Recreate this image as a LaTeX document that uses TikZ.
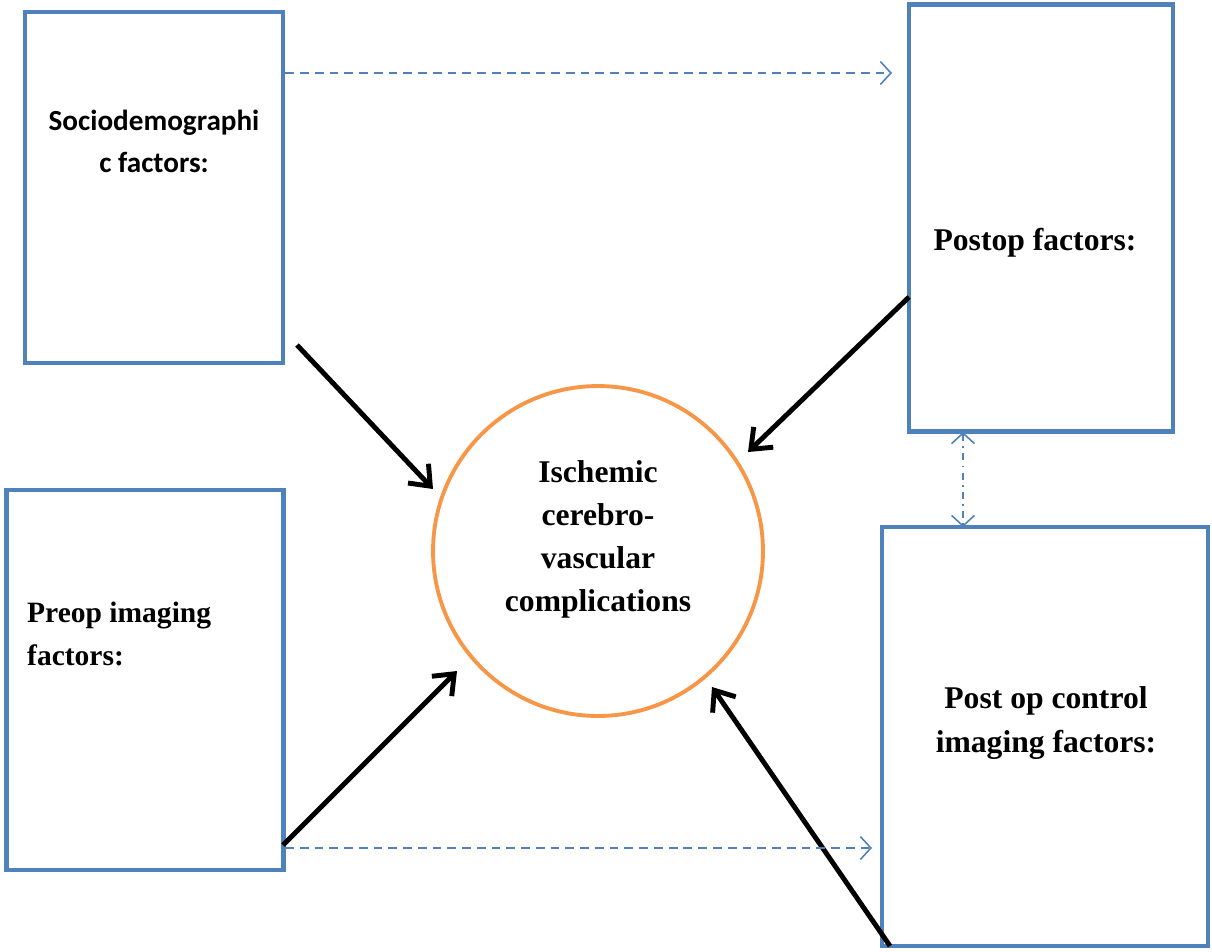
\documentclass[tikz,border=0pt]{standalone}
\usepackage{fontspec}
\setmainfont{Liberation Serif}
\newfontfamily\calibri{Carlito}
\usetikzlibrary{arrows.meta}
\definecolor{boxblue}{HTML}{4F81BD}
\definecolor{ringorange}{HTML}{F79646}

\begin{document}
\begin{tikzpicture}[x=0.02cm,y=-0.02cm,
	fbox/.style={draw=boxblue,line width=2.7pt,inner sep=0pt},
	ftext/.style={font=\bfseries\fontsize{18}{24.5}\selectfont,align=center},
	cause/.style={-{Straight Barb[length=10pt,width=16pt]},line width=2.8pt},
	link/.style={draw=boxblue,line width=0.9pt,dash pattern=on 5pt off 3.4pt,-{Straight Barb[length=6pt,width=13pt,line width=0.9pt]}}]
	\useasboundingbox (0,0) rectangle (1212,951);
	% boxes
	\node[fbox,minimum width=5.16cm,minimum height=7.02cm] (socio) at (154,187.5) {};
	\node[fbox,minimum width=5.28cm,minimum height=8.54cm] (postop) at (1041,218) {};
	\node[fbox,minimum width=5.54cm,minimum height=7.6cm] (preop) at (145,680) {};
	\node[fbox,minimum width=6.52cm,minimum height=8.38cm] (ctrl) at (1045,736.5) {};
	\node[draw=ringorange,line width=2.2pt,circle,minimum size=6.6cm] (isc) at (598,551) {};
	% texts
	\node[ftext,font=\calibri\bfseries\fontsize{16.6}{24}\selectfont] (sociotxt) at (154,141) {Sociodemographi\\c factors:};
	\node[ftext] (postoptxt) at (1035,243) {Postop factors:};
	\node[ftext,font=\bfseries\fontsize{16.8}{24}\selectfont,align=left,anchor=west] (preoptxt) at (21,634) {Preop imaging\\factors:};
	\node[ftext] (ctrltxt) at (1046,723) {Post op control\\imaging factors:};
	\node[ftext] (isctxt) at (598,539) {Ischemic\\cerebro-\\vascular\\complications};
	% arrow ends
	\coordinate (s1) at (297,345); \coordinate (s2) at (433,489);
	\coordinate (p1) at (909,297); \coordinate (p2) at (748,452);
	\coordinate (r1) at (283,845); \coordinate (r2) at (457,671);
	\coordinate (c1) at (890,946); \coordinate (c2) at (712,687);
	\draw[cause] (s1) -- (s2);
	\draw[cause] (p1) -- (p2);
	\draw[cause] (r1) -- (r2);
	\draw[cause] (c1) -- (c2);
	% dashed links
	\draw[link] (socio.east |- 0,73) -- (892,73);
	\draw[link] (285,848) -- (872,848);
	\draw[link,{Straight Barb[length=6pt,width=13pt,line width=0.9pt]}-{Straight Barb[length=6pt,width=13pt,line width=0.9pt]},dash pattern=on 4pt off 3pt on 1pt off 3pt] (963,432) -- (963,527);
\end{tikzpicture}
\end{document}
